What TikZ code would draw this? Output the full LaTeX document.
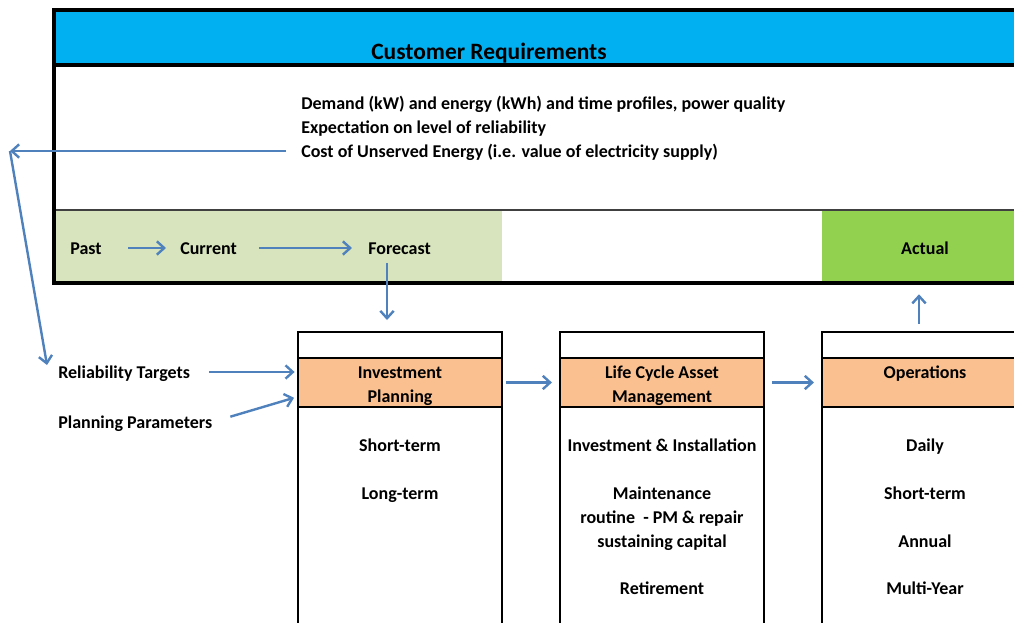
\documentclass[tikz,border=0pt]{standalone}
\usepackage{fontspec}
\setmainfont{Carlito}
\usetikzlibrary{arrows.meta}
\definecolor{headblue}{HTML}{00B0F0}
\definecolor{pastgreen}{HTML}{D7E4BD}
\definecolor{actgreen}{HTML}{92D050}
\definecolor{headorange}{HTML}{FAC090}
\definecolor{arrblue}{HTML}{4F81BD}
\tikzset{
	>={Straight Barb[length=5.5pt,width=10pt]},
	txt/.style={inner sep=0pt,font=\bfseries\fontsize{13.5}{18}\selectfont,text height=10.5pt,text depth=1.5pt},
	arr/.style={->,draw=arrblue,line width=1.8pt},
	frame/.style={line width=2.4pt},
	colbox/.style={draw,line width=2.1pt,inner sep=0pt,minimum width=153pt,minimum height=231pt},
	headbox/.style={draw,fill=headorange,line width=2.1pt,inner sep=0pt,minimum width=153pt,minimum height=36.75pt},
}
\begin{document}
\begin{tikzpicture}[x=0.75pt,y=-0.75pt]
		\useasboundingbox (0,0) rectangle (1014,622);
		\clip (0,0) rectangle (1014,622);
		% customer requirements panel
		\fill [color=headblue] (54,10) rectangle (1030,65);
		\fill [color=pastgreen] (54,210) rectangle (502,283);
		\node [fill=actgreen,inner sep=0pt,minimum width=156pt,minimum height=54.75pt] at (926,246.5) (actualcell) {};
		\draw [frame] (54,65) -- (1030,65);
		\draw [line width=1.6pt,color=black!75] (54,210) -- (1030,210);
		\draw [frame] (54,10) rectangle (1030,283);
		\node [inner sep=0pt,anchor=base,font=\bfseries\fontsize{17.6}{22}\selectfont] at (489,59) (title) {Customer Requirements};
		\node [txt,anchor=base west] at (301,109) (demand) {Demand (kW) and energy (kWh) and time profiles, power quality};
		\node [txt,anchor=base west] at (301,133) (expect) {Expectation on level of reliability};
		\node [txt,anchor=base west] at (301,157) (cost) {Cost of Unserved Energy (i.e. value of electricity supply)};
		\node [txt,anchor=base west] at (70,254) (past) {Past};
		\node [txt,anchor=base west] at (180,254) (current) {Current};
		\node [txt,anchor=base west] at (368,254) (forecast) {Forecast};
		\node [txt,anchor=base] at (925,254) (actual) {Actual};
		% planning columns
		\foreach \cx/\nm in {400/inv, 662/lcam, 924/ops}{
			\node [colbox] at (\cx,486) (\nm-box) {};
			\node [headbox] at (\cx,382.5) (\nm-head) {};
		}
		\foreach \cx/\cy/\t [count=\i] in {400/378/Investment, 400/402/Planning, 662/378/Life Cycle Asset, 662/402/Management, 925/378/Operations}
			\node [txt,anchor=base] at (\cx,\cy) (head\i) {\t};
		\foreach \cx/\cy/\t [count=\i] in {400/451/Short-term, 400/499/Long-term, 662/451/Investment \& Installation, 662/499/Maintenance, 662/523/routine~ - PM \& repair, 662/547/sustaining capital, 662/594/Retirement, 925/451/Daily, 925/499/Short-term, 925/547/Annual, 925/594/Multi-Year}
			\node [txt,anchor=base] at (\cx,\cy) (body\i) {\t};
		\node [txt,anchor=base west] at (58,378) (reltgt) {Reliability Targets};
		\node [txt,anchor=base west] at (58,428) (plparam) {Planning Parameters};
		% connectors
		\coordinate (hub) at (10,151);
		\coordinate (reltip) at (47,365);
		\coordinate (fctip) at (387,320);
		\coordinate (opsfoot) at (919,324);
		\draw [arr,shorten <=19.5pt,shorten >=10.5pt] (past.east) -- (current.west);
		\draw [arr,shorten <=16.5pt,shorten >=12pt] (current.east) -- (forecast.west);
		\draw [arr,shorten <=11.25pt] (cost.west) -- (hub);
		\draw [arr] (hub) -- (reltip);
		\draw [arr,shorten <=5pt] (forecast.south -| fctip) -- (fctip);
		\draw [arr,shorten <=14pt,shorten >=1.5pt] (reltgt.east) -- (reltgt.east -| inv-box.west);
		\draw [arr,shorten <=14pt,shorten >=2pt] (plparam.east) -- (inv-head.188);
		\draw [arr,shorten <=2pt,shorten >=5pt] (inv-head.east) -- (lcam-head.west);
		\draw [arr,shorten <=5pt,shorten >=5pt] (lcam-head.east) -- (ops-head.west);
		\draw [arr,shorten >=8.25pt] (opsfoot) -- (opsfoot |- actualcell.south);
	\end{tikzpicture}
\end{document}
